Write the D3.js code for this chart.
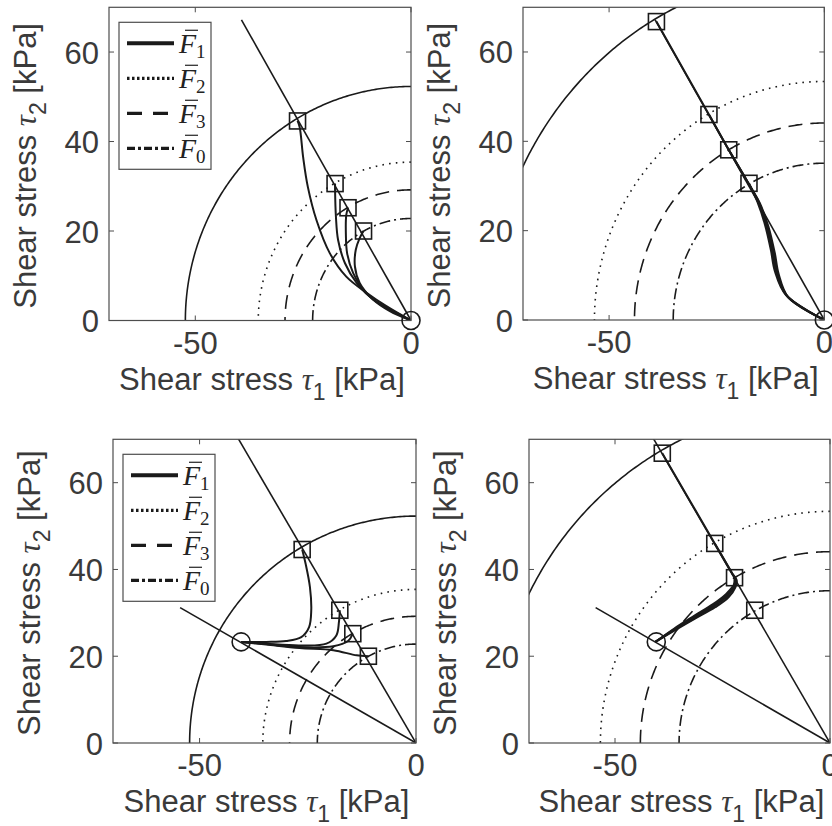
<!DOCTYPE html>
<html>
<head>
<meta charset="utf-8">
<script src="https://cdn.jsdelivr.net/npm/d3@7/dist/d3.min.js"></script>
<style>
  body { margin: 0; background: #fff; }
  svg { display: block; }
</style>
</head>
<body>
<svg id="chart" width="832" height="826"></svg>
<script>
// ---- data ----
const xTicks = [-50, 0];
const yTicks = [0, 20, 40, 60];
const seriesSubs = ["1", "2", "3", "0"];          // legend: F-bar subscripts
const radiiSmall = [52.3, 35.4, 29.2, 22.8];      // F1, F2, F3, F0 (left panels)
const radiiLarge = [78.0, 53.4, 44.1, 35.1];      // F1, F2, F3, F0 (right panels)
const squaresSmall = [[-26.3, 44.6], [-17.6, 30.6], [-14.6, 25.2], [-11.0, 20.0]];
const squaresLarge = [[-39.0, 66.8], [-26.8, 46.0], [-22.2, 38.1], [-17.5, 30.6]];
const rayShort = [[0, 0], [-39.3, 67.2]];
const rayLong = [[0, 0], [-46.0, 78.6]];
const rayLow = [[0, 0], [-54.5, 31.2]];
const startOrigin = [0, 0];
const startOffset = [-40.4, 23.3];

const paths1 = [
  [[0, 0], [-5.7, 3.2], [-10.3, 6.2], [-15.0, 9.8], [-18.8, 15.0], [-21.9, 22.4], [-23.9, 29.8], [-25.0, 36.5], [-25.8, 43.2], [-26.3, 44.6]],
  [[0, 0], [-4.1, 2.1], [-8.8, 4.7], [-12.6, 8.4], [-15.3, 12.8], [-16.9, 18.0], [-17.4, 23.2], [-17.6, 29.1], [-17.6, 30.6]],
  [[0, 0], [-5.7, 2.8], [-10.3, 6.0], [-13.4, 10.6], [-14.8, 15.0], [-15.1, 19.5], [-15.0, 23.6], [-14.6, 25.2]],
  [[0, 0], [-4.9, 2.1], [-8.8, 4.7], [-11.9, 8.4], [-13.0, 12.1], [-12.8, 15.8], [-11.9, 18.4], [-11.0, 20.0]]
];
const paths2 = [
  [[0, 0], [-8.3, 5.0], [-10.6, 10.3], [-11.5, 15.0], [-13.0, 21.0], [-15.0, 26.2], [-17.3, 30.0], [-22.2, 38.1], [-26.8, 46.0], [-39.0, 66.8]],
  [[0, 0], [-8.5, 5.2], [-10.9, 10.5], [-11.8, 15.2], [-13.3, 21.2], [-15.2, 26.4], [-17.4, 30.2], [-22.2, 38.1], [-26.8, 46.0]],
  [[0, 0], [-8.7, 5.4], [-11.2, 10.7], [-12.1, 15.4], [-13.5, 21.3], [-15.4, 26.5], [-17.5, 30.4], [-22.2, 38.1]],
  [[0, 0], [-8.9, 5.6], [-11.5, 11.0], [-12.4, 15.6], [-13.8, 21.4], [-15.6, 26.6], [-17.5, 30.6]]
];
const paths3 = [
  [[-40.4, 23.3], [-34.6, 23.3], [-30.0, 23.5], [-26.5, 24.4], [-24.7, 26.7], [-24.2, 30.6], [-24.5, 35.9], [-25.5, 41.3], [-26.3, 44.6]],
  [[-40.4, 23.3], [-34.6, 22.9], [-26.9, 22.5], [-20.7, 22.9], [-18.4, 24.8], [-17.8, 27.9], [-17.6, 30.6]],
  [[-40.4, 23.3], [-34.6, 22.8], [-26.9, 22.1], [-19.1, 22.3], [-15.7, 23.5], [-14.6, 25.2]],
  [[-40.4, 23.3], [-34.6, 22.7], [-26.9, 21.9], [-19.1, 21.4], [-13.7, 20.2], [-11.0, 20.0]]
];
const paths4 = [
  [[-40.6, 23.3], [-36.0, 26.0], [-31.3, 28.7], [-26.7, 31.3], [-23.6, 33.6], [-22.0, 35.9], [-21.7, 37.5], [-22.8, 39.2], [-26.8, 46.0], [-39.0, 66.8]],
  [[-40.6, 23.3], [-36.0, 26.2], [-31.3, 28.9], [-26.8, 31.6], [-23.8, 33.9], [-22.2, 36.1], [-21.9, 37.6], [-22.8, 39.2], [-26.8, 46.0]],
  [[-40.6, 23.3], [-36.1, 26.3], [-31.5, 29.1], [-27.0, 31.8], [-24.0, 34.1], [-22.4, 36.3], [-22.2, 38.1]],
  [[-40.6, 23.3], [-36.2, 26.4], [-31.6, 29.3], [-27.2, 32.0], [-24.2, 34.3], [-22.5, 36.2], [-21.9, 37.2]]
];

// ---- layout / style ----
const ink = "#1a1a1a";
const axisCol = "#4d4d4d";
const textCol = "#3a3a3a";
const dashes = [null, "1.6 5.2", "14 8", "11 4 2 4"];
const legendDashes = [null, "2.5 2.5", "15 11", "8 3 3 3"];

const panels = [
  { box: [109, 411, 7.3, 320.5], radii: radiiSmall, squares: squaresSmall, rays: [rayShort], start: startOrigin, paths: paths1, legend: true },
  { box: [523, 824.3, 7.3, 320], radii: radiiLarge, squares: squaresLarge, rays: [rayShort], start: startOrigin, paths: paths2, legend: false },
  { box: [113, 416, 439.3, 743], radii: radiiSmall, squares: squaresSmall, rays: [rayLong, rayLow], start: startOffset, paths: paths3, legend: true },
  { box: [529, 830, 439.3, 743], radii: radiiLarge, squares: squaresLarge, rays: [rayLong, rayLow], start: startOffset, paths: paths4, legend: false }
];

const svg = d3.select("#chart");
const defs = svg.append("defs");

panels.forEach((p, i) => {
  const [x0, x1, y0, y1] = p.box;
  const x = d3.scaleLinear().domain([-70, 0]).range([x0, x1]);
  const y = d3.scaleLinear().domain([0, 70]).range([y1, y0]);
  const g = svg.append("g");

  defs.append("clipPath").attr("id", `clip${i}`)
    .append("rect").attr("x", x0).attr("y", y0).attr("width", x1 - x0).attr("height", y1 - y0);
  const plot = g.append("g").attr("clip-path", `url(#clip${i})`);

  // failure circles
  const arc = d3.line().x(d => x(d[0])).y(d => y(d[1]));
  p.radii.forEach((r, k) => {
    const pts = d3.range(0, 181).map(a => {
      const t = Math.PI / 2 + (a / 180) * (Math.PI / 2);
      return [r * Math.cos(t), r * Math.sin(t)];
    });
    plot.append("path").attr("d", arc(pts))
      .attr("fill", "none").attr("stroke", ink).attr("stroke-width", 1.6)
      .attr("stroke-dasharray", dashes[k]);
  });

  // rays
  p.rays.forEach(r => {
    plot.append("line")
      .attr("x1", x(r[0][0])).attr("y1", y(r[0][1]))
      .attr("x2", x(r[1][0])).attr("y2", y(r[1][1]))
      .attr("stroke", ink).attr("stroke-width", 1.6);
  });

  // stress paths
  const line = d3.line().x(d => x(d[0])).y(d => y(d[1])).curve(d3.curveCatmullRom.alpha(0.5));
  p.paths.forEach(pts => {
    plot.append("path").attr("d", line(pts))
      .attr("fill", "none").attr("stroke", ink).attr("stroke-width", 2);
  });

  // axes box + ticks
  g.append("rect").attr("x", x0).attr("y", y0).attr("width", x1 - x0).attr("height", y1 - y0)
    .attr("fill", "none").attr("stroke", axisCol).attr("stroke-width", 1.2);
  xTicks.forEach(t => {
    g.append("line").attr("x1", x(t)).attr("x2", x(t)).attr("y1", y1).attr("y2", y1 - 5).attr("stroke", axisCol);
    g.append("line").attr("x1", x(t)).attr("x2", x(t)).attr("y1", y0).attr("y2", y0 + 5).attr("stroke", axisCol);
    g.append("text").attr("x", x(t)).attr("y", y1 + 33)
      .attr("text-anchor", "middle").attr("class", "tick").text(t);
  });
  yTicks.forEach(t => {
    g.append("line").attr("x1", x0).attr("x2", x0 + 5).attr("y1", y(t)).attr("y2", y(t)).attr("stroke", axisCol);
    g.append("line").attr("x1", x1).attr("x2", x1 - 5).attr("y1", y(t)).attr("y2", y(t)).attr("stroke", axisCol);
    g.append("text").attr("x", x0 - 10).attr("y", y(t) + 11.5)
      .attr("text-anchor", "end").attr("class", "tick").text(t);
  });

  // axis labels
  const xl = g.append("text").attr("x", (x0 + x1) / 2 + 2).attr("y", y1 + 69)
    .attr("text-anchor", "middle").attr("class", "lab");
  xl.append("tspan").text("Shear stress ");
  xl.append("tspan").attr("class", "sym").text("τ");
  xl.append("tspan").attr("dy", 10).attr("font-size", 23).text("1");
  xl.append("tspan").attr("dy", -10).text(" [kPa]");

  const yl = g.append("text")
    .attr("transform", `translate(${x0 - 73},${(y0 + y1) / 2 + 2}) rotate(-90)`)
    .attr("text-anchor", "middle").attr("class", "lab");
  yl.append("tspan").text("Shear stress ");
  yl.append("tspan").attr("class", "sym").text("τ");
  yl.append("tspan").attr("dy", 10).attr("font-size", 23).text("2");
  yl.append("tspan").attr("dy", -10).text(" [kPa]");

  // markers
  p.squares.forEach(s => {
    g.append("rect").attr("x", x(s[0]) - 8).attr("y", y(s[1]) - 8)
      .attr("width", 16).attr("height", 16)
      .attr("fill", "none").attr("stroke", ink).attr("stroke-width", 1.6);
  });
  g.append("circle").attr("cx", x(p.start[0])).attr("cy", y(p.start[1])).attr("r", 9)
    .attr("fill", "none").attr("stroke", ink).attr("stroke-width", 1.6);

  // legend
  if (p.legend) {
    const lg = g.append("g").attr("transform", `translate(${x0 + 10},${y0 + 15})`);
    lg.append("rect").attr("width", 92).attr("height", 147)
      .attr("fill", "#fff").attr("stroke", axisCol).attr("stroke-width", 1.2);
    seriesSubs.forEach((s, k) => {
      const ly = 21 + k * 35;
      lg.append("line").attr("x1", 8).attr("x2", 55).attr("y1", ly).attr("y2", ly)
        .attr("stroke", ink).attr("stroke-width", k === 0 ? 4 : 3.2)
        .attr("stroke-dasharray", legendDashes[k]);
      const t = lg.append("text").attr("x", 60).attr("y", ly + 10).attr("class", "leg");
      t.append("tspan").attr("font-style", "italic").text("F");
      t.append("tspan").attr("dy", 5).attr("font-size", 19).text(s);
      lg.append("line").attr("x1", 66).attr("x2", 79).attr("y1", ly - 13).attr("y2", ly - 13)
        .attr("stroke", "#333").attr("stroke-width", 1.3);
    });
  }
});

svg.selectAll("text.tick").attr("font-family", "'Liberation Sans', Arial, sans-serif")
  .attr("font-size", 31).attr("fill", textCol);
svg.selectAll("text.lab").attr("font-family", "'Liberation Sans', Arial, sans-serif")
  .attr("font-size", 31).attr("fill", textCol);
svg.selectAll("tspan.sym").attr("font-family", "'Liberation Serif', serif").attr("font-style", "italic");
svg.selectAll("text.leg").attr("font-family", "'Liberation Serif', 'DejaVu Serif', serif")
  .attr("font-size", 28).attr("fill", "#222");
</script>
</body>
</html>
